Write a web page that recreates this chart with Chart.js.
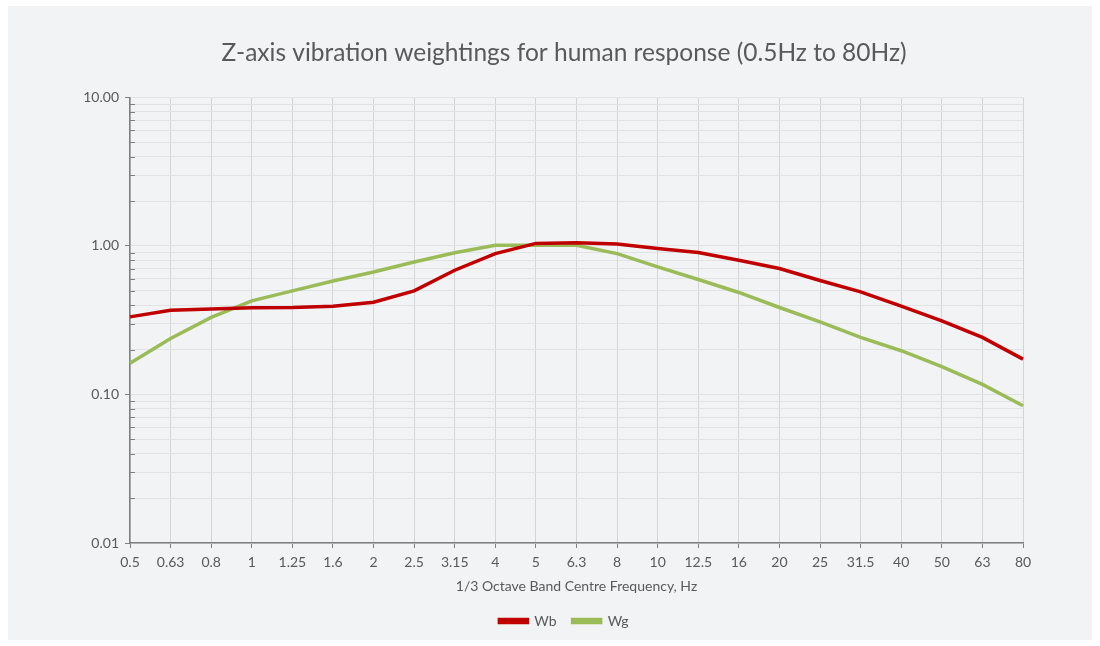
<!DOCTYPE html>
<html>
<head>
<meta charset="utf-8">
<script src="https://cdn.jsdelivr.net/npm/chart.js@4/dist/chart.umd.min.js"></script>
<style>
  body { margin: 0; background: #fff; }
  #wrap { position: absolute; left: 8px; top: 6px; width: 1084px; height: 634px; background: #f2f3f5; }
</style>
</head>
<body>
<div id="wrap"><canvas id="chart" width="1084" height="634"></canvas></div>
<script>
// dados
const freqs = ["0.5","0.63","0.8","1","1.25","1.6","2","2.5","3.15","4","5","6.3","8","10","12.5","16","20","25","31.5","40","50","63","80"];
const wb = [0.333,0.369,0.376,0.384,0.385,0.393,0.418,0.498,0.686,0.888,1.04,1.05,1.03,0.96,0.902,0.801,0.705,0.585,0.491,0.393,0.313,0.242,0.173];
const wg = [0.162,0.238,0.330,0.427,0.498,0.581,0.668,0.780,0.900,1.01,1.01,1.01,0.888,0.722,0.594,0.486,0.385,0.308,0.242,0.197,0.154,0.117,0.084];
const yTicks = [0.01,0.02,0.03,0.04,0.05,0.06,0.07,0.08,0.09,0.1,0.2,0.3,0.4,0.5,0.6,0.7,0.8,0.9,1,2,3,4,5,6,7,8,9,10];
const yMajor = [0.01,0.1,1,10];

const TXT = "#595959";
const AXIS = "#7f7f7f";
const isMajor = v => yMajor.some(m => Math.abs(m - v) < 1e-9);

// ticks menores do lado de dentro do eixo y
const minorTicks = {
  id: "minorTicks",
  afterDraw(chart) {
    const s = chart.scales.y, ctx = chart.ctx;
    ctx.save();
    ctx.strokeStyle = AXIS; ctx.lineWidth = 1;
    s.ticks.forEach(t => {
      if (isMajor(t.value)) return;
      const y = Math.round(s.getPixelForValue(t.value)) + 0.5;
      ctx.beginPath(); ctx.moveTo(s.right, y); ctx.lineTo(s.right + 5, y); ctx.stroke();
    });
    ctx.restore();
  }
};

Chart.defaults.font.family = "Lato, 'Open Sans', sans-serif";
Chart.defaults.color = TXT;

new Chart(document.getElementById("chart"), {
  type: "line",
  data: {
    labels: freqs,
    datasets: [
      { label: "Wb", data: wb, borderColor: "#c00000", backgroundColor: "#c00000", borderWidth: 3.5, pointRadius: 0, tension: 0 },
      { label: "Wg", data: wg, borderColor: "#9bbb59", backgroundColor: "#9bbb59", borderWidth: 3.5, pointRadius: 0, tension: 0 }
    ]
  },
  options: {
    responsive: false,
    animation: false,
    layout: { padding: { left: 28, right: 0, top: 0, bottom: 2 } },
    plugins: {
      title: {
        display: true,
        text: "Z-axis vibration weightings for human response (0.5Hz to 80Hz)",
        color: TXT,
        font: { size: 24.5, weight: "normal", lineHeight: 1.2 },
        padding: { top: 32, bottom: 30 }
      },
      legend: {
        position: "bottom",
        labels: { boxWidth: 28, boxHeight: 3, color: TXT, font: { size: 14 }, padding: 16 }
      },
      tooltip: { enabled: false }
    },
    scales: {
      x: {
        offset: false,
        grid: { color: "#d3d4d6", tickColor: AXIS, tickLength: 5, offset: false },
        border: { color: AXIS, width: 1.5 },
        ticks: { color: TXT, font: { size: 14 }, padding: 6, maxRotation: 0, autoSkip: false },
        title: { display: true, text: "1/3 Octave Band Centre Frequency, Hz", color: TXT, font: { size: 14, lineHeight: 1.2 }, padding: { top: 4, bottom: 3 } },
        afterFit: s => { s.height = 55; }
      },
      y: {
        type: "logarithmic",
        min: 0.01, max: 10,
        afterBuildTicks: s => { s.ticks = yTicks.map(v => ({ value: v, major: isMajor(v) })); },
        grid: {
          color: "#e1e2e4",
          tickColor: c => isMajor(c.tick.value) ? AXIS : "rgba(0,0,0,0)",
          tickLength: 5
        },
        border: { color: AXIS, width: 1.5 },
        ticks: {
          color: TXT, font: { size: 14 }, padding: 6, autoSkip: false,
          callback: v => isMajor(v) ? v.toFixed(2) : ""
        },
        afterFit: s => { s.width = 94; }
      },
      // eixo vazio à direita, só para reservar espaço
      yPad: {
        position: "right",
        display: true,
        grid: { drawOnChartArea: false, drawTicks: false },
        border: { display: false },
        ticks: { display: false },
        afterFit: s => { s.width = 69; }
      }
    }
  },
  plugins: [minorTicks]
});
</script>
</body>
</html>
